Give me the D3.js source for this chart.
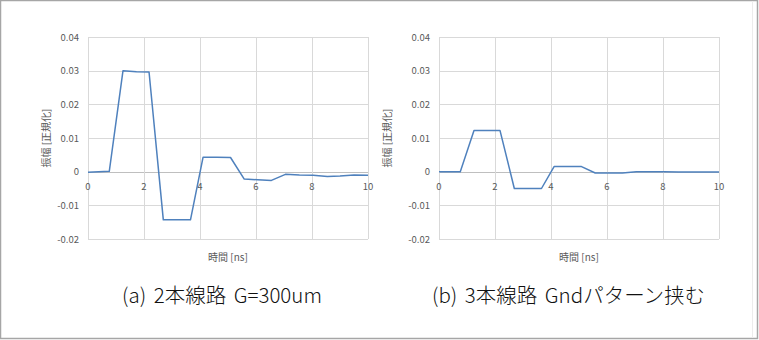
<!DOCTYPE html>
<html>
<head>
<meta charset="utf-8">
<script src="https://cdn.jsdelivr.net/npm/d3@7"></script>
<style>
  body { margin: 0; background: #fff; }
  text { font-family: "Noto Sans CJK JP", "Noto Sans", sans-serif; }
</style>
</head>
<body>
<div id="canvas"></div>
<script>
"use strict";

let svgWidth = 759;
let svgHeight = 340;

/* ---------------- DATA ---------------- */
let times = [0, 0.76, 1.25, 1.73, 2.18, 2.69, 3.17, 3.66, 4.11, 4.6, 5.09,
             5.58, 6.06, 6.55, 7.05, 7.55, 8.04, 8.55, 9.0, 9.5, 10];

let valuesA = [-0.0002, 0.0001, 0.0300, 0.0297, 0.0296, -0.0143, -0.0143, -0.0143,
               0.0043, 0.0043, 0.0042, -0.0022, -0.0024, -0.0026, -0.0008, -0.0010,
               -0.0011, -0.0014, -0.0013, -0.0010, -0.0011];

let valuesB = [0, 0, 0.0122, 0.0122, 0.0122, -0.0050, -0.0050, -0.0050,
               0.0015, 0.0015, 0.0015, -0.0004, -0.0004, -0.0004, 0.0000, 0.0000,
               0.0000, -0.0001, -0.0001, -0.0001, -0.0001];

let xTicks = [0, 2, 4, 6, 8, 10];
let yTicks = [-0.02, -0.01, 0, 0.01, 0.02, 0.03, 0.04];

let xTitle = "時間 [ns]";
let yTitle = "振幅 [正規化]";
let captions = ["(a) 2本線路 G=300um", "(b) 3本線路 Gndパターン挟む"];

let svg = d3.select("#canvas")
    .append("svg")
    .attr("width", svgWidth)
    .attr("height", svgHeight);

svg.append("rect")
    .attr("x", 0.5)
    .attr("y", 0.5)
    .attr("width", svgWidth - 2)
    .attr("height", svgHeight - 2)
    .attr("fill", "white")
    .attr("stroke", "#a6a6a6")
    .attr("stroke-width", 1.5);

// faint outline of the right chart area
svg.append("line")
    .attr("x1", 752.5).attr("x2", 752.5)
    .attr("y1", 1).attr("y2", 338)
    .attr("stroke", "#ececec");

/* ---------------- ONE PANEL ---------------- */
function drawPanel(left, values, yTitleX, caption, captionX) {

    let top = 37;
    let bottom = 239;
    let width = 280;

    let xScale = d3.scaleLinear().domain([0, 10]).range([left, left + width]);
    let yScale = d3.scaleLinear().domain([-0.02, 0.04]).range([bottom, top]);

    let g = svg.append("g");

    // horizontal gridlines
    g.selectAll(".hgrid")
        .data(yTicks)
        .enter()
        .append("line")
        .attr("x1", xScale(0))
        .attr("x2", xScale(10))
        .attr("y1", d => Math.round(yScale(d)) + 0.5)
        .attr("y2", d => Math.round(yScale(d)) + 0.5)
        .attr("stroke", d => d === 0 ? "#bfbfbf" : "#d9d9d9")
        .attr("stroke-width", 1);

    // vertical gridlines
    g.selectAll(".vgrid")
        .data(xTicks)
        .enter()
        .append("line")
        .attr("x1", d => Math.round(xScale(d)) + 0.5)
        .attr("x2", d => Math.round(xScale(d)) + 0.5)
        .attr("y1", yScale(0.04))
        .attr("y2", yScale(-0.02))
        .attr("stroke", "#d9d9d9")
        .attr("stroke-width", 1);

    // y tick labels
    g.selectAll(".ylab")
        .data(yTicks)
        .enter()
        .append("text")
        .attr("x", left - 9)
        .attr("y", d => yScale(d) + 3.5)
        .attr("text-anchor", "end")
        .attr("font-size", "9.5px")
        .attr("fill", "#595959")
        .text(d => d === 0 ? "0" : d3.format(".2f")(d).replace("−", "-"));

    // x tick labels (next to the zero axis)
    g.selectAll(".xlab")
        .data(xTicks)
        .enter()
        .append("text")
        .attr("x", d => xScale(d))
        .attr("y", yScale(0) + 18)
        .attr("text-anchor", "middle")
        .attr("font-size", "9.5px")
        .attr("fill", "#595959")
        .text(d => d);

    // line
    let line = d3.line()
        .x((d, i) => xScale(times[i]))
        .y(d => yScale(d));

    g.append("path")
        .datum(values)
        .attr("d", line)
        .attr("fill", "none")
        .attr("stroke", "#4f81bd")
        .attr("stroke-width", 1.5)
        .attr("stroke-linejoin", "round");

    // axis titles
    g.append("text")
        .attr("x", left + width / 2)
        .attr("y", 261)
        .attr("text-anchor", "middle")
        .attr("font-size", "10px")
        .attr("fill", "#595959")
        .text(xTitle);

    g.append("text")
        .attr("transform", "translate(" + yTitleX + "," + ((top + bottom) / 2) + ") rotate(-90)")
        .attr("text-anchor", "middle")
        .attr("font-size", "10px")
        .attr("fill", "#595959")
        .text(yTitle);

    // caption
    g.append("text")
        .attr("x", captionX)
        .attr("y", 303)
        .attr("font-size", "20.5px")
        .attr("font-weight", 300)
        .attr("word-spacing", "3px")
        .attr("fill", "#111")
        .text(caption);
}

drawPanel(88, valuesA, 50, captions[0], 122);
drawPanel(439, valuesB, 391, captions[1], 432);
</script>
</body>
</html>
